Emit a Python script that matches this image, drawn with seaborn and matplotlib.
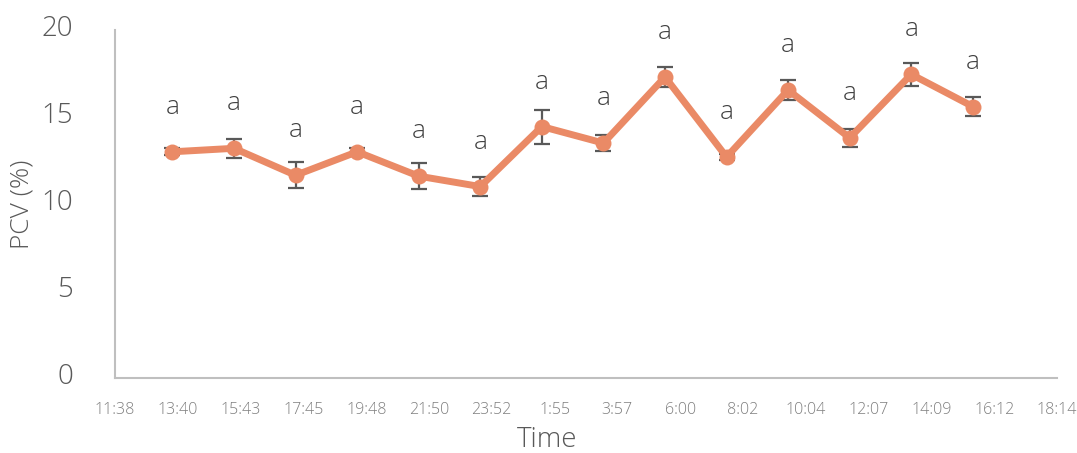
import matplotlib
matplotlib.use("Agg")
import matplotlib.pyplot as plt
import matplotlib.transforms as mtransforms
import seaborn as sns
import pandas as pd

# Sampling times (every two hours, running past midnight into the next day)
sample_times = ["13:30", "15:30", "17:30", "19:30", "21:30", "23:30", "1:30",
                "3:30", "5:30", "7:30", "9:30", "11:30", "13:30", "15:30"]
pcv_mean = [13.0, 13.2, 11.65, 13.0, 11.6, 11.0, 14.45, 13.5, 17.3, 12.7,
            16.55, 13.8, 17.45, 15.6]
pcv_sd = [0.2, 0.53, 0.75, 0.2, 0.76, 0.54, 0.98, 0.46, 0.55, 0.2,
          0.57, 0.52, 0.65, 0.57]
group_letters = ["a"] * 14

x_tick_labels = ["11:38", "13:40", "15:43", "17:45", "19:48", "21:50", "23:52",
                 "1:55", "3:57", "6:00", "8:02", "10:04", "12:07", "14:09",
                 "16:12", "18:14"]


def to_hours(labels):
    """Convert clock strings to continuous hours, adding a day at each wrap."""
    out, day, prev = [], 0, -1.0
    for s in labels:
        h, m = s.split(":")
        v = int(h) + int(m) / 60.0
        if v < prev:
            day += 24
        prev = v
        out.append(v + day)
    return out


hours = to_hours(sample_times)
tick_hours = to_hours(x_tick_labels)

df = pd.DataFrame({"hours": hours, "pcv": pcv_mean, "sd": pcv_sd})

sns.set_theme(style="white")
plt.rcParams["font.family"] = ["Open Sans", "DejaVu Sans"]

fig = plt.figure(figsize=(10.77, 4.53), dpi=100)
ax = fig.add_axes([0.1068, 0.1656, 0.8746, 0.7682])

line_color = "#EA8A66"
ax.errorbar(df["hours"], df["pcv"], yerr=df["sd"], fmt="none",
            ecolor="#595959", elinewidth=1.6, capsize=5.5, capthick=1.6,
            zorder=2)
sns.lineplot(data=df, x="hours", y="pcv", ax=ax, color=line_color,
             linewidth=5, marker="o", markersize=11.5, markeredgewidth=0,
             zorder=3)

for xh, y, lab in zip(df["hours"], df["pcv"], group_letters):
    ax.annotate(lab, (xh, y), xytext=(0, 32), textcoords="offset points",
                ha="center", va="center", fontsize=19, color="#404040",
                fontweight="light")

ax.set_xlim(tick_hours[0], tick_hours[-1])
ax.set_ylim(0, 20)
ax.set_yticks([0, 5, 10, 15, 20])
ax.set_xticks(tick_hours)
ax.set_xticklabels(x_tick_labels)

ax.tick_params(axis="y", length=0, pad=30, labelsize=20, labelcolor="#595959")
ax.tick_params(axis="x", length=0, pad=17, labelsize=11.5, labelcolor="#7F7F7F")
lift = mtransforms.ScaledTranslation(0, 4 / 100, fig.dpi_scale_trans)
for t in ax.get_yticklabels():
    t.set_fontweight("light")
    t.set_transform(t.get_transform() + lift)
for t in ax.get_xticklabels():
    t.set_fontweight("light")

for side in ["top", "right"]:
    ax.spines[side].set_visible(False)
for side in ["left", "bottom"]:
    ax.spines[side].set_color("#BFBFBF")
    ax.spines[side].set_linewidth(1.5)

ax.set_ylabel("PCV (%)", fontsize=19, color="#595959", fontweight="light")
ax.yaxis.set_label_coords(-0.085, 0.5)
ax.set_xlabel("Time", fontsize=20, color="#595959", fontweight="light",
              va="center")
ax.xaxis.set_label_coords(0.4586, -0.178)

fig.savefig("out.png", dpi=100)
